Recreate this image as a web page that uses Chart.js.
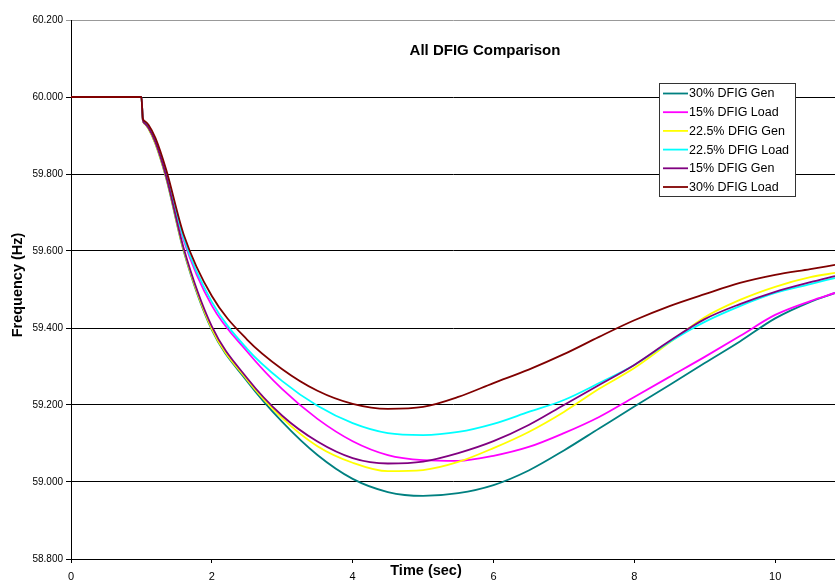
<!DOCTYPE html>
<html>
<head>
<meta charset="utf-8">
<script src="https://cdn.jsdelivr.net/npm/chart.js@4.4.0/dist/chart.umd.min.js"></script>
<style>
  body { margin: 0; background: #fff; }
  #wrap { width: 835px; height: 581px; }
</style>
</head>
<body>
<div id="wrap"><canvas id="grafica" width="835" height="581"></canvas></div>
<script>
// tiempos (s) y frecuencia (Hz)
const tiempos = [0, 1.0, 1.02, 1.05, 1.1, 1.2, 1.35, 1.6, 2.0, 2.5, 3.0, 3.5, 4.0, 4.5, 5.0, 5.5, 6.0, 6.5, 7.0, 7.5, 8.0, 8.5, 9.0, 9.5, 10.0, 10.5, 10.85];

const gen30 = [60.000, 60.000, 59.940, 59.930, 59.918, 59.878, 59.790, 59.600, 59.395, 59.262, 59.156, 59.070, 59.008, 58.974, 58.964, 58.971, 58.992, 59.030, 59.082, 59.139, 59.196, 59.252, 59.309, 59.365, 59.425, 59.468, 59.491];
const load15 = [60.000, 60.000, 59.942, 59.933, 59.922, 59.885, 59.800, 59.628, 59.458, 59.339, 59.241, 59.164, 59.106, 59.070, 59.057, 59.055, 59.068, 59.091, 59.127, 59.169, 59.221, 59.273, 59.325, 59.379, 59.434, 59.470, 59.491];
const gen225 = [60.000, 60.000, 59.940, 59.930, 59.918, 59.879, 59.792, 59.603, 59.398, 59.266, 59.166, 59.093, 59.050, 59.028, 59.031, 59.052, 59.088, 59.130, 59.182, 59.242, 59.296, 59.362, 59.428, 59.473, 59.507, 59.532, 59.543];
const load225 = [60.000, 60.000, 59.943, 59.934, 59.924, 59.888, 59.805, 59.633, 59.468, 59.346, 59.262, 59.198, 59.153, 59.127, 59.122, 59.130, 59.151, 59.182, 59.213, 59.257, 59.304, 59.364, 59.416, 59.457, 59.491, 59.514, 59.530];
const gen15 = [60.000, 60.000, 59.941, 59.931, 59.920, 59.882, 59.795, 59.607, 59.404, 59.270, 59.172, 59.105, 59.062, 59.048, 59.053, 59.075, 59.106, 59.148, 59.200, 59.252, 59.304, 59.366, 59.423, 59.462, 59.494, 59.519, 59.535];
const load30 = [60.000, 60.000, 59.945, 59.937, 59.928, 59.893, 59.812, 59.643, 59.483, 59.370, 59.293, 59.237, 59.203, 59.190, 59.195, 59.221, 59.257, 59.292, 59.332, 59.377, 59.420, 59.457, 59.488, 59.517, 59.538, 59.553, 59.564];

const nombres = ['30% DFIG Gen', '15% DFIG Load', '22.5% DFIG Gen', '22.5% DFIG Load', '15% DFIG Gen', '30% DFIG Load'];
const colores = ['#008080', '#FF00FF', '#FFFF00', '#00FFFF', '#800080', '#800000'];
const series = [gen30, load15, gen225, load225, gen15, load30];

const ticksX = [0, 2, 4, 6, 8, 10];
const ticksY = [58.8, 59.0, 59.2, 59.4, 59.6, 59.8, 60.0, 60.2];

const fuente = "'Liberation Sans', Arial, sans-serif";

// titulo, etiquetas de ejes y leyenda dibujados a mano
const textos = {
  id: 'textos',
  afterDraw(chart) {
    const ctx = chart.ctx;
    ctx.save();
    ctx.fillStyle = '#000';
    ctx.textAlign = 'center';
    ctx.textBaseline = 'alphabetic';
    ctx.font = 'bold 15px ' + fuente;
    ctx.fillText('All DFIG Comparison', 485, 55);
    ctx.font = 'bold 14.5px ' + fuente;
    ctx.fillText('Time (sec)', 426, 575);
    ctx.save();
    ctx.translate(22, 285);
    ctx.rotate(-Math.PI / 2);
    ctx.fillText('Frequency (Hz)', 0, 0);
    ctx.restore();

    // leyenda
    const lx = 659.5, ly = 83.5, lw = 136, lh = 113;
    ctx.fillStyle = '#fff';
    ctx.fillRect(lx, ly, lw, lh);
    ctx.strokeStyle = '#333';
    ctx.lineWidth = 1;
    ctx.strokeRect(lx, ly, lw, lh);
    ctx.font = '12.5px ' + fuente;
    ctx.textAlign = 'left';
    ctx.textBaseline = 'middle';
    nombres.forEach((n, i) => {
      const y = 93.5 + i * 18.7;
      ctx.strokeStyle = colores[i];
      ctx.lineWidth = 1.8;
      ctx.beginPath();
      ctx.moveTo(663, y);
      ctx.lineTo(688, y);
      ctx.stroke();
      ctx.fillStyle = '#000';
      ctx.fillText(n, 689, y + 0.5);
    });
    ctx.restore();
  }
};

const ctx = document.getElementById('grafica').getContext('2d');
new Chart(ctx, {
  type: 'line',
  data: {
    datasets: series.map((s, i) => ({
      label: nombres[i],
      data: tiempos.map((t, j) => ({ x: t, y: s[j] })),
      borderColor: colores[i],
      borderWidth: 1.8,
      pointRadius: 0,
      fill: false,
      cubicInterpolationMode: 'monotone',
      order: series.length - i
    }))
  },
  options: {
    responsive: false,
    animation: false,
    layout: { padding: { top: 20, right: 0, left: 0, bottom: 0 } },
    plugins: {
      legend: { display: false },
      title: { display: false },
      tooltip: { enabled: false }
    },
    scales: {
      x: {
        type: 'linear',
        min: 0,
        max: 10.85,
        afterBuildTicks: s => { s.ticks = ticksX.map(v => ({ value: v })); },
        afterFit: s => { s.height = 22; },
        grid: { drawOnChartArea: false, drawTicks: true, tickLength: 4, color: '#000' },
        border: { color: '#000', width: 1 },
        ticks: { color: '#000', font: { family: fuente, size: 11 }, padding: 7, maxRotation: 0 }
      },
      y: {
        min: 58.8,
        max: 60.2,
        afterBuildTicks: s => { s.ticks = ticksY.map(v => ({ value: v })); },
        afterFit: s => { s.width = 71; },
        grid: {
          color: c => (c.tick && c.tick.value >= 60.19 ? '#999' : '#000'),
          drawTicks: true,
          tickLength: 5
        },
        border: { color: '#000', width: 1 },
        ticks: {
          color: '#000',
          font: { family: fuente, size: 10 },
          padding: 3,
          callback: v => Number(v).toFixed(3)
        }
      }
    }
  },
  plugins: [textos]
});
</script>
</body>
</html>
